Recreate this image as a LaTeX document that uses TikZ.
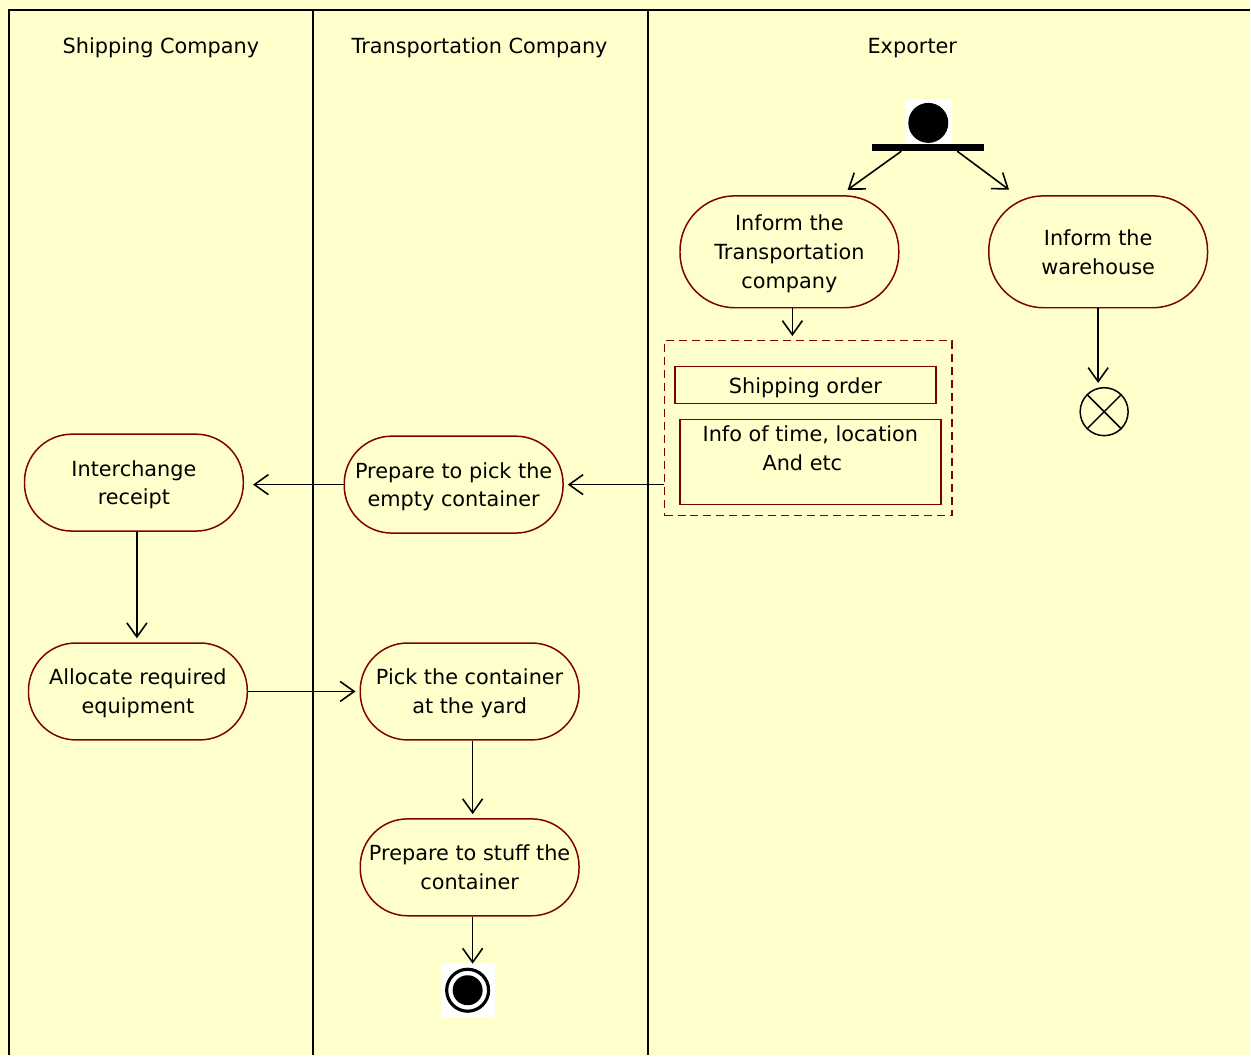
\documentclass[tikz,border=0pt]{standalone}
\usepackage{fontspec}
\setmainfont{DejaVu Sans}
\usepackage{xcolor}
\usepackage{tikz}
\usetikzlibrary{arrows.meta}
\definecolor{laneyellow}{RGB}{255,255,204}
\definecolor{actred}{RGB}{128,0,0}

\begin{document}
\begin{tikzpicture}[x=0.02cm,y=-0.02cm,font=\fontsize{11.85pt}{16.4pt}\selectfont]
		\tikzstyle{activity}=[draw=actred,fill=laneyellow,line width=0.85pt,rounded corners=0.95cm,minimum width=4.38cm,minimum height=1.94cm,align=center,inner sep=0pt,text depth=-0.15cm]
		\tikzstyle{object}=[draw=actred,line width=0.85pt,minimum width=5.22cm,align=center,inner sep=0pt,text depth=-0.06cm]
		\tikzstyle{flow}=[-{Straight Barb[length=0.28cm,width=0.4cm]},line width=0.9pt,shorten >=0.08cm]

		% background and swimlanes
		\fill[laneyellow] (0,0) rectangle (1251,1056);
		\draw[line width=1.1pt] (9,1056) -- (9,10) -- (1251,10);
		\draw[line width=1.1pt] (313,10) -- (313,1056);
		\draw[line width=1.1pt] (648.6,10) -- (648.6,1056);
		\node (shiplane) at (161,48) {Shipping Company};
		\node (translane) at (480,48) {Transportation Company};
		\node (explane) at (913,48) {Exporter};

		% exporter
		\node[fill=white,minimum size=0.94cm,inner sep=0pt] (startbg) at (929,123) {};
		\node[circle,fill=black,minimum size=0.8cm,inner sep=0pt] (start) at (929,123) {};
		\node[fill=black,minimum width=2.24cm,minimum height=0.14cm,inner sep=0pt] (bar) at (929,147.5) {};
		\node[activity,minimum height=2.24cm,rounded corners=1.1cm,text depth=-0.1cm] (informtrans) at (790,252) {Inform the\\Transportation\\company};
		\node[activity,minimum height=2.24cm,rounded corners=1.1cm,text depth=-0.12cm] (informware) at (1099,252) {Inform the\\warehouse};
		\node[circle,draw,line width=0.85pt,minimum size=0.96cm,inner sep=0pt] (flowend) at (1105,412) {};
		\draw[line width=0.85pt] (flowend.north west) -- (flowend.south east);
		\draw[line width=0.85pt] (flowend.north east) -- (flowend.south west);

		\node[draw=actred,dashed,dash pattern=on 0.16cm off 0.1cm,line width=0.85pt,minimum width=5.76cm,minimum height=3.5cm] (orderbox) at (809,428.5) {};
		\node[object,minimum height=0.74cm] (shiporder) at (806,385.5) {Shipping order};
		\node[object,minimum height=1.7cm,text depth=-0.2cm] (info) at (811,462.5) {Info of time, location\\\mbox{And etc\hspace{0.32cm}}\\\mbox{}};

		% transportation company
		\node[activity] (pickempty) at (454,485) {Prepare to pick the\\empty container};
		\node[activity] (pickyard) at (470,692) {Pick the container\\at the yard};
		\node[activity] (stuff) at (470,868) {Prepare to stuff the\\container};
		\node[fill=white,minimum size=1.08cm,inner sep=0pt] (endbg) at (468,991) {};
		\node[circle,draw,line width=1.8pt,minimum size=0.84cm,inner sep=0pt] (finish) at (468,991) {};
		\node[circle,fill=black,minimum size=0.6cm,inner sep=0pt] at (468,991) {};

		% shipping company
		\node[activity] (receipt) at (134,483) {Interchange\\receipt};
		\node[activity] (allocate) at (138,692) {Allocate required\\equipment};

		\draw[flow] ([xshift=-0.54cm]bar.south) -- ([xshift=1.1cm,yshift=0.06cm]informtrans.north);
		\draw[flow] ([xshift=0.58cm]bar.south) -- ([xshift=-1.72cm,yshift=0.06cm]informware.north);
		\draw[flow] ([xshift=0.06cm]informtrans.south) -- ([xshift=0.06cm]informtrans.south |- orderbox.north);
		\draw[flow] (informware.south) -- (informware.south |- flowend.north);
		\draw[flow] (orderbox.west |- pickempty) -- (pickempty.east);
		\draw[flow,shorten >=0.18cm] (pickempty.west) -- (receipt.east |- pickempty.west);
		\draw[flow] ([xshift=0.06cm]receipt.south) -- ([xshift=0.06cm]receipt.south |- allocate.north);
		\draw[flow] (allocate.east) -- (pickyard.west);
		\draw[flow] ([xshift=0.06cm]pickyard.south) -- ([xshift=0.06cm]stuff.north);
		\draw[flow] ([xshift=0.06cm]stuff.south) -- ([xshift=0.06cm]stuff.south |- finish.north);

	\end{tikzpicture}
\end{document}
